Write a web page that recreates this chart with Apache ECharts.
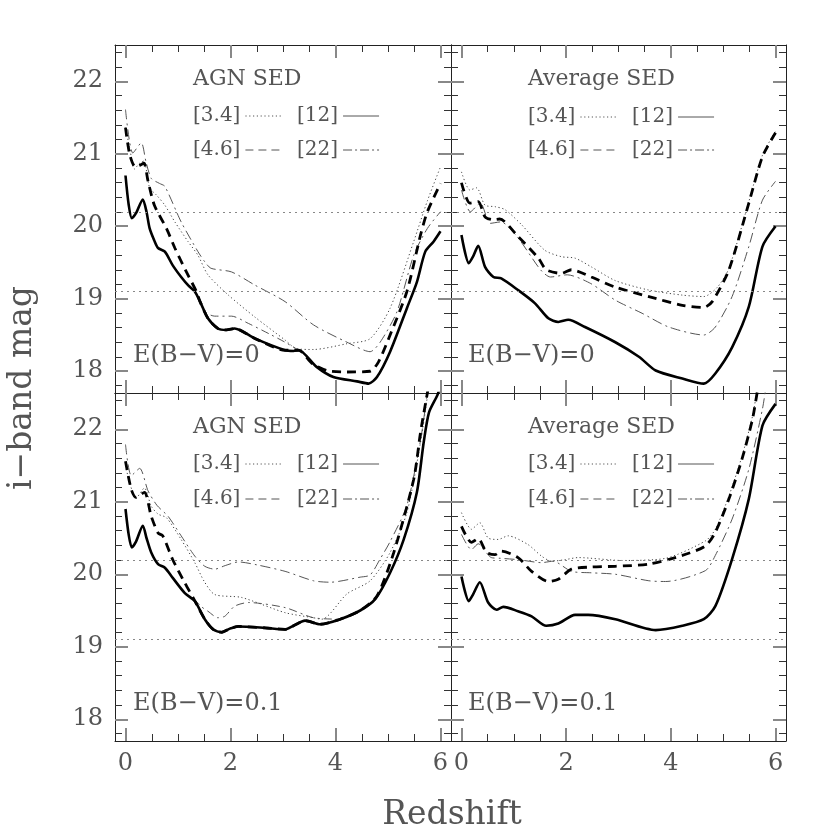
<!DOCTYPE html>
<html><head><meta charset="utf-8">
<script src="https://cdn.jsdelivr.net/npm/echarts@6/dist/echarts.min.js"></script>
<style>html,body{margin:0;padding:0;background:#fff}#c{width:830px;height:830px}</style>
</head><body><div id="c"></div><script>
// ---- tick values / reference limits ----
const zMajor = [0, 2, 4, 6];
const magMajor = [18, 19, 20, 21, 22];
const limits = [20.2, 19.1];
const bandNames = ['[3.4]', '[4.6]', '[12]', '[22]'];

// ---- Panel 1: AGN SED, E(B-V)=0 ----
const agn0_w1 = [[0,21.36],[0.08,21.08],[0.17,20.79],[0.27,20.87],[0.35,20.9],[0.46,20.53],[0.59,20.43],[0.75,20.29],[0.94,20.06],[1.19,19.79],[1.38,19.60],[1.57,19.33],[1.96,19.05],[2.46,18.75],[3.04,18.43],[3.26,18.31],[3.58,18.30],[4.22,18.38],[4.66,18.45],[5.04,18.87],[5.49,19.79],[5.75,20.35],[6.0,20.82]];
const agn0_w2 = [[0,21.36],[0.08,20.99],[0.185,20.82],[0.27,20.84],[0.35,20.87],[0.43,20.62],[0.55,20.29],[0.78,19.97],[0.94,19.70],[1.16,19.37],[1.35,19.10],[1.42,18.96],[1.57,18.73],[1.76,18.59],[1.92,18.57],[2.08,18.59],[2.47,18.45],[3.04,18.29],[3.3,18.29],[3.55,18.11],[3.84,18.01],[4.22,17.99],[4.66,18.0],[4.82,18.13],[5.04,18.50],[5.36,19.10],[5.62,19.88],[5.75,20.20],[6.0,20.59]];
const agn0_w3 = [[0,20.70],[0.06,20.30],[0.12,20.11],[0.2,20.18],[0.33,20.37],[0.4,20.2],[0.46,19.97],[0.55,19.80],[0.62,19.70],[0.75,19.65],[0.9,19.46],[1.06,19.30],[1.2,19.18],[1.32,19.10],[1.42,18.96],[1.57,18.73],[1.76,18.59],[1.92,18.57],[2.08,18.59],[2.47,18.45],[3.04,18.29],[3.2,18.28],[3.3,18.29],[3.64,18.06],[3.96,17.92],[4.41,17.86],[4.63,17.83],[4.79,17.92],[5.04,18.27],[5.36,18.87],[5.55,19.23],[5.71,19.65],[5.87,19.79],[6.0,19.93]];
const agn0_w4 = [[0,21.61],[0.14,21.01],[0.30,21.15],[0.39,20.89],[0.49,20.66],[0.65,20.59],[0.75,20.55],[1.06,20.06],[1.38,19.65],[1.51,19.51],[1.63,19.42],[2.02,19.37],[2.46,19.19],[3.04,18.96],[3.58,18.64],[4.22,18.40],[4.66,18.27],[4.85,18.40],[5.17,18.82],[5.49,19.60],[5.75,19.97],[6.0,20.2]];
const agn0_x = [[1.42,18.96],[1.51,18.82],[1.70,18.76],[2.02,18.76],[2.34,18.66],[2.78,18.50],[3.04,18.40],[3.3,18.29]];

// ---- Panel 2: Average SED, E(B-V)=0 ----
const avg0_w1 = [[0,20.75],[0.16,20.50],[0.29,20.53],[0.45,20.29],[0.64,20.27],[0.83,20.23],[1.15,20.02],[1.59,19.67],[1.91,19.58],[2.17,19.56],[2.48,19.44],[2.94,19.25],[3.58,19.12],[4.22,19.05],[4.63,19.03],[4.89,19.16],[5.11,19.42],[5.49,20.34],[5.75,20.98],[6.0,21.31]];
const avg0_w2 = [[0,20.6],[0.16,20.32],[0.32,20.34],[0.45,20.13],[0.61,20.09],[0.73,20.10],[1.08,19.86],[1.47,19.56],[1.62,19.40],[1.91,19.35],[2.10,19.40],[2.48,19.30],[2.94,19.16],[3.58,19.03],[4.22,18.91],[4.63,18.88],[4.79,18.96],[5.11,19.40],[5.49,20.32],[5.75,20.96],[6.0,21.29]];
const avg0_w3 = [[0,19.88],[0.14,19.49],[0.22,19.58],[0.32,19.73],[0.45,19.44],[0.61,19.30],[0.76,19.28],[1.08,19.12],[1.40,18.94],[1.66,18.73],[1.85,18.68],[2.04,18.71],[2.36,18.61],[2.94,18.40],[3.39,18.20],[3.71,18.01],[4.22,17.90],[4.63,17.83],[4.85,17.97],[5.17,18.33],[5.49,18.89],[5.75,19.72],[6.0,20.0]];
const avg0_w4 = [[0,20.5],[0.17,20.20],[0.36,20.32],[0.55,20.04],[0.75,20.06],[1.06,19.86],[1.51,19.40],[1.70,19.30],[2.02,19.33],[2.47,19.21],[2.94,18.98],[3.45,18.80],[3.96,18.61],[4.63,18.50],[4.85,18.61],[5.17,19.03],[5.49,19.72],[5.75,20.36],[6.0,20.62]];

// ---- Panel 3: AGN SED, E(B-V)=0.1 ----
const agn1_w1 = [[0,21.5],[0.08,21.26],[0.2,21.05],[0.36,21.19],[0.49,20.94],[0.62,20.83],[0.78,20.78],[1.06,20.48],[1.32,20.16],[1.5,19.9],[1.7,19.72],[2.21,19.68],[3.04,19.47],[3.58,19.40],[3.74,19.38],[4.22,19.73],[4.66,19.91],[5.04,20.30],[5.36,20.85],[5.62,21.82],[5.75,22.45],[5.8,22.7]];
const agn1_w2 = [[0,21.56],[0.11,21.17],[0.2,21.06],[0.36,21.13],[0.49,20.80],[0.62,20.57],[0.71,20.53],[0.90,20.20],[1.13,19.88],[1.30,19.66],[1.51,19.38],[1.67,19.24],[1.83,19.20],[1.99,19.25],[2.15,19.28],[2.66,19.26],[3.04,19.24],[3.2,19.29],[3.42,19.36],[3.71,19.31],[4.09,19.38],[4.47,19.50],[4.79,19.70],[5.11,20.30],[5.49,21.31],[5.62,21.96],[5.75,22.5],[5.8,22.7]];
const agn1_w3 = [[0,20.90],[0.06,20.55],[0.12,20.37],[0.2,20.45],[0.33,20.67],[0.4,20.5],[0.49,20.30],[0.62,20.14],[0.75,20.09],[0.90,19.95],[1.13,19.74],[1.32,19.63],[1.51,19.38],[1.67,19.24],[1.83,19.20],[1.99,19.25],[2.15,19.28],[2.66,19.26],[3.04,19.24],[3.2,19.29],[3.42,19.36],[3.71,19.31],[4.09,19.38],[4.47,19.50],[4.76,19.66],[5.04,20.02],[5.30,20.48],[5.55,21.13],[5.68,21.82],[5.78,22.23],[5.94,22.47],[6.0,22.6]];
const agn1_w4 = [[0,21.79],[0.11,21.36],[0.27,21.46],[0.43,21.15],[0.6,20.95],[0.81,20.80],[1.06,20.53],[1.32,20.25],[1.51,20.11],[1.7,20.07],[1.9,20.12],[2.15,20.17],[2.5,20.13],[3.04,20.04],[3.58,19.91],[3.9,19.89],[4.47,19.96],[4.66,19.99],[4.85,20.21],[5.04,20.45],[5.36,20.95],[5.62,21.85],[5.75,22.5],[5.8,22.7]];
const agn1_x = [[1.30,19.66],[1.45,19.55],[1.57,19.49],[1.76,19.40],[1.89,19.42],[2.08,19.56],[2.34,19.61],[3.04,19.54],[3.58,19.40],[4.09,19.38]];

// ---- Panel 4: Average SED, E(B-V)=0.1 ----
const avg1_w1 = [[0,20.85],[0.19,20.62],[0.35,20.71],[0.51,20.50],[0.70,20.48],[0.89,20.53],[1.27,20.41],[1.53,20.25],[1.72,20.18],[1.97,20.20],[2.23,20.23],[3.06,20.19],[3.9,20.22],[4.66,20.46],[4.85,20.62],[5.11,21.08],[5.36,21.63],[5.56,22.18],[5.65,22.55]];
const avg1_w2 = [[0,20.66],[0.19,20.44],[0.32,20.49],[0.48,20.30],[0.64,20.27],[0.76,20.32],[1.08,20.23],[1.34,20.04],[1.66,19.90],[1.85,19.93],[2.10,20.07],[2.48,20.10],[2.94,20.11],[3.58,20.14],[4.22,20.26],[4.66,20.39],[4.85,20.58],[5.11,21.04],[5.36,21.59],[5.56,22.14],[5.65,22.51],[5.7,22.7]];
const avg1_w3 = [[0,19.97],[0.14,19.63],[0.22,19.72],[0.35,19.89],[0.51,19.61],[0.67,19.51],[0.80,19.55],[1.08,19.49],[1.34,19.42],[1.62,19.29],[1.85,19.32],[2.17,19.44],[2.42,19.44],[2.94,19.38],[3.71,19.23],[4.22,19.29],[4.63,19.38],[4.85,19.56],[5.17,20.21],[5.49,21.04],[5.75,22.05],[6.0,22.35]];
const avg1_w4 = [[0,20.55],[0.19,20.34],[0.32,20.42],[0.57,20.23],[0.75,20.22],[1.1,20.2],[1.53,20.16],[1.75,20.18],[2.10,20.04],[2.48,20.02],[2.94,20.0],[3.58,19.91],[3.90,19.90],[4.66,20.05],[4.85,20.26],[5.17,20.76],[5.49,21.45],[5.75,22.28],[5.82,22.6]];

// ---- panel texts ----
const sedTitles = ['AGN SED', 'Average SED', 'AGN SED', 'Average SED'];
const ebvTexts = ['E(B\u2212V)=0', 'E(B\u2212V)=0', 'E(B\u2212V)=0.1', 'E(B\u2212V)=0.1'];

const panelCurves = [
  {'[3.4]': agn0_w1, '[4.6]': agn0_w2, '[12]': agn0_w3, '[22]': agn0_w4, 'extra': agn0_x},
  {'[3.4]': avg0_w1, '[4.6]': avg0_w2, '[12]': avg0_w3, '[22]': avg0_w4},
  {'[3.4]': agn1_w1, '[4.6]': agn1_w2, '[12]': agn1_w3, '[22]': agn1_w4, 'extra': agn1_x},
  {'[3.4]': avg1_w1, '[4.6]': avg1_w2, '[12]': avg1_w3, '[22]': avg1_w4}
];

// ---- styling / layout ----
const FONT = 'DejaVu Serif';
const TXT = '#555';
const lineStyles = {
  '[3.4]': {width: 1, color: '#444', type: [1.2, 2.6]},
  '[4.6]': {width: 2.8, color: '#000', type: [9, 6]},
  '[12]':  {width: 2.6, color: '#000', type: 'solid'},
  '[22]':  {width: 1, color: '#555', type: [10, 4, 2, 4]},
  'extra': {width: 1, color: '#555', type: [8, 4, 2, 4]}
};
const legendDash = {'[3.4]': [1.2, 2.6], '[4.6]': [8, 5], '[12]': 'solid', '[22]': [9, 3, 2, 3]};
const grids = [
  {left: 115, top: 45, width: 336, height: 348},
  {left: 451, top: 45, width: 335, height: 348},
  {left: 115, top: 393, width: 336, height: 348},
  {left: 451, top: 393, width: 335, height: 348}
];
const titlePos = [[193, 82], [528, 82], [193, 430], [528, 430]];
const ebvPos = [[133, 359], [468, 359], [133, 707], [468, 707]];
const legendCols = [[193, 297], [528, 632], [193, 297], [528, 632]];
const legendRows = [[114, 148], [115, 148], [462, 497], [462, 497]];

const xAxes = [], yAxes = [], series = [], legends = [], graphics = [];

function tickCommon(custom) {
  return {show: true, inside: true, length: 13, customValues: custom, lineStyle: {color: '#888', width: 2}};
}
const minor = (n) => ({show: true, splitNumber: n, length: 7, lineStyle: {color: '#333', width: 1}});
const axLine = {show: true, onZero: false, lineStyle: {color: '#222', width: 1}};

grids.forEach((g, gi) => {
  const showX = gi >= 2, showY = gi % 2 === 0;
  ['bottom', 'top'].forEach((pos, k) => {
    xAxes.push({
      gridIndex: gi, type: 'value', position: pos, min: -0.2, max: 6.2,
      splitNumber: 3, minInterval: 2, maxInterval: 2,
      axisLine: axLine, axisTick: tickCommon(zMajor), minorTick: minor(4),
      splitLine: {show: false}, minorSplitLine: {show: false},
      axisLabel: {show: showX && k === 0, customValues: zMajor, margin: 11,
        fontFamily: FONT, fontSize: 24, color: TXT}
    });
  });
  ['left', 'right'].forEach((pos, k) => {
    yAxes.push({
      gridIndex: gi, type: 'value', position: pos, min: 17.7, max: 22.5,
      splitNumber: 5, minInterval: 1, maxInterval: 1,
      axisLine: axLine, axisTick: tickCommon(magMajor), minorTick: minor(5),
      splitLine: {show: false}, minorSplitLine: {show: false},
      axisLabel: {show: showY && k === 0, customValues: magMajor, margin: 12,
        fontFamily: FONT, fontSize: 24, color: TXT}
    });
  });

  const curves = panelCurves[gi];
  Object.keys(curves).forEach((name) => {
    const s = {
      name: name, type: 'line', xAxisIndex: gi * 2, yAxisIndex: gi * 2,
      data: curves[name], symbol: 'none', showSymbol: false, smooth: 0.25, clip: true,
      lineStyle: lineStyles[name], itemStyle: {color: 'rgba(0,0,0,0)', opacity: 0},
      silent: true,
      z: (name === '[12]' || name === '[4.6]') ? 3 : 2
    };
    if (name === '[12]') {
      s.markLine = {
        silent: true, symbol: ['none', 'none'], label: {show: false},
        lineStyle: {type: [2, 4], color: '#888', width: 1.2},
        data: limits.map(v => ({yAxis: v}))
      };
    }
    series.push(s);
  });

  // legend items (two rows x two columns)
  [['[3.4]', '[12]'], ['[4.6]', '[22]']].forEach((row, r) => {
    row.forEach((nm, c) => {
      legends.push({
        show: true, data: [nm], left: legendCols[gi][c], top: legendRows[gi][r] - 8,
        align: 'right', itemWidth: 36, itemHeight: 16, padding: 0, selectedMode: false,
        textStyle: {fontFamily: FONT, fontSize: 20, color: TXT},
        itemStyle: {opacity: 0, color: 'rgba(0,0,0,0)', borderWidth: 0},
        lineStyle: {width: 1, color: '#555', type: legendDash[nm]}
      });
    });
  });

  graphics.push({type: 'text', left: titlePos[gi][0], top: titlePos[gi][1] - 14,
    style: {text: sedTitles[gi], font: '22px "' + FONT + '"', fill: TXT}});
  graphics.push({type: 'text', left: ebvPos[gi][0], top: ebvPos[gi][1] - 15,
    style: {text: ebvTexts[gi], font: '24px "' + FONT + '"', fill: TXT}});
});

graphics.push({type: 'text', x: 452, y: 815,
  style: {text: 'Redshift', font: '33px "' + FONT + '"', fill: TXT, align: 'center', verticalAlign: 'middle'}});
graphics.push({type: 'text', x: 22, y: 388, rotation: Math.PI / 2,
  style: {text: 'i\u2212band mag', font: '33px "' + FONT + '"', fill: TXT, align: 'center', verticalAlign: 'middle'}});

const chart = echarts.init(document.getElementById('c'), null, {renderer: 'canvas'});
chart.setOption({
  animation: false,
  backgroundColor: '#fff',
  grid: grids.map(g => Object.assign({containLabel: false}, g)),
  xAxis: xAxes, yAxis: yAxes,
  legend: legends,
  series: series,
  graphic: graphics
});
</script></body></html>
